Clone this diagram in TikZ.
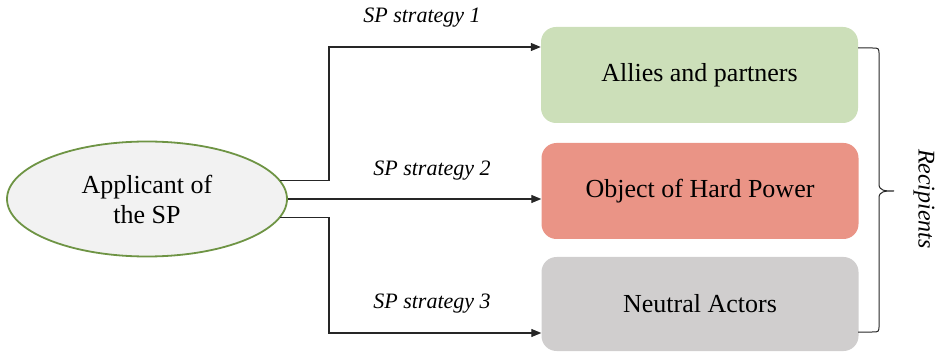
\documentclass[tikz,border=0pt]{standalone}
\usepackage{fontspec}
\setmainfont{Liberation Serif}
\usetikzlibrary{arrows.meta,shapes.geometric,calc}
\definecolor{boxgreen}{HTML}{CCDFB9}
\definecolor{boxred}{HTML}{EA9486}
\definecolor{boxgrey}{HTML}{D0CECE}
\definecolor{ellfill}{HTML}{F2F2F2}
\definecolor{ellline}{HTML}{6E9444}
\begin{document}
\begin{tikzpicture}[x=1pt,y=-1pt,
  recbox/.style={rectangle,rounded corners=15pt,minimum width=317pt,minimum height=96pt,inner sep=0pt,font=\fontsize{26}{30}\selectfont},
  arr/.style={draw=black!85,line width=1.2pt,-{Triangle[length=10pt,width=8pt]}},
  lbl/.style={font=\fontsize{22}{26}\selectfont\itshape,inner sep=0pt}]
\useasboundingbox (0,0) rectangle (936,352);
\node[ellipse,draw=ellline,line width=1.8pt,fill=ellfill,minimum width=280pt,minimum height=115pt,inner sep=0pt,align=center,font=\fontsize{26}{30}\selectfont] (app) at (147,199) {Applicant of\\the SP};
\node[recbox,fill=boxgreen] (allies) at (699.5,75) {Allies and partners};
\node[recbox,fill=boxred] (hard) at (700,191) {Object of Hard Power};
\node[recbox,fill=boxgrey,minimum height=94pt] (neutral) at (700,304) {Neutral Actors};
\coordinate (jx) at (329,0);
\draw[arr] (app.8) -- (app.8 -| jx) |- ([yshift=28pt]allies.west);
\draw[arr] (app.east) -- (hard.west |- app.east);
\draw[arr] (app.-8) -- (app.-8 -| jx) |- ([yshift=-29pt]neutral.west);
\node[lbl] (l1) at (422,18) {SP strategy 1};
\node[lbl] (l2) at (432,171) {SP strategy 2};
\node[lbl] (l3) at (432,304) {SP strategy 3};
\draw[black!85,line width=1pt] (858,48) -- (872,48) .. controls (879,48) .. (879,55) -- (879,184) .. controls (879,191) and (885,191) .. (894,191)
  (858,332) -- (872,332) .. controls (879,332) .. (879,325) -- (879,198) .. controls (879,191) and (885,191) .. (894,191);
\node[font=\fontsize{24}{28}\selectfont\itshape,rotate=-90,inner sep=0pt] (rec) at (924,199) {Recipients};
\end{tikzpicture}
\end{document}
